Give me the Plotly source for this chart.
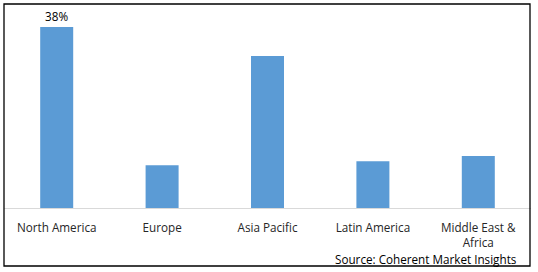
import plotly.graph_objects as go

categories = ["North America", "Europe", "Asia Pacific", "Latin America", "Middle East &<br>Africa"]
shares = [38.0, 9.0, 31.9, 9.8, 10.9]
bar_labels = ["38%", "", "", "", ""]

W, H = 538, 272
L, R, T, B = 4, 7, 4, 64
plot_h = H - T - B
FS = 11.7

fig = go.Figure(go.Bar(
    x=list(range(len(categories))),
    y=shares,
    text=bar_labels,
    textposition="outside",
    textfont=dict(family="Open Sans", size=FS, color="#000000"),
    marker=dict(color="#5B9BD5", line=dict(width=0)),
    width=0.313,
    cliponaxis=False,
))

fig.update_layout(
    width=W, height=H,
    margin=dict(l=L, r=R, t=T, b=B),
    paper_bgcolor="white", plot_bgcolor="white",
    showlegend=False,
    font=dict(family="Open Sans", size=FS, color="#262626"),
    xaxis=dict(
        tickvals=list(range(len(categories))),
        ticktext=categories,
        range=[-0.5, len(categories) - 0.5],
        showline=True, linecolor="#d9d9d9", linewidth=1,
        showgrid=False, zeroline=False, ticks="",
        ticklabelstandoff=9,
        tickfont=dict(family="Open Sans", size=FS, color="#262626"),
    ),
    yaxis=dict(
        range=[0, 42.84],
        visible=False, showgrid=False, zeroline=False,
    ),
    shapes=[dict(
        type="rect", xref="paper", yref="paper",
        x0=0, x1=(530 - L) / (W - L - R),
        y0=(T + plot_h - 266) / plot_h, y1=1.0,
        line=dict(color="black", width=1.3), fillcolor="rgba(0,0,0,0)",
    )],
    annotations=[dict(
        text="Source: Coherent Market Insights",
        xref="paper", yref="paper",
        x=(519 - L) / (W - L - R), y=(T + plot_h - 259) / plot_h,
        xanchor="right", yanchor="middle", showarrow=False,
        font=dict(family="Open Sans", size=FS, color="#000000"),
    )],
)

fig.write_html("out.html")
